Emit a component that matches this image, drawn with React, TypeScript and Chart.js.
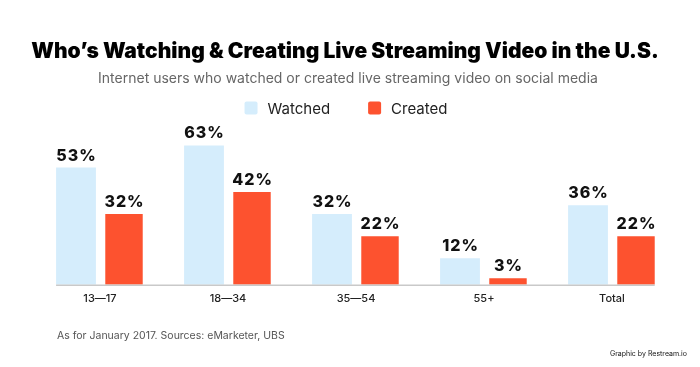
import React, { useEffect, useRef } from "react";
import { Chart, registerables } from "chart.js";

Chart.register(...registerables);

const categories = ["13—17", "18—34", "35—54", "55+", "Total"];
const watched = [53, 63, 32, 12, 36];
const created = [32, 42, 22, 3, 22];
const seriesNames = ["Watched", "Created"];
const titleText = "Who’s Watching & Creating Live Streaming Video in the U.S.";
const subtitleText = "Internet users who watched or created live streaming video on social media";
const footnote = "As for January 2017. Sources: eMarketer, UBS";
const credit = "Graphic by Restream.io";

const WATCHED_COLOR = "#d5edfc";
const CREATED_COLOR = "#fd522f";
const FONT = "Inter, 'Noto Sans', sans-serif";

const extrasPlugin = {
  id: "extras",
  afterDatasetsDraw(chart: any) {
    const ctx = chart.ctx;
    ctx.save();
    ctx.fillStyle = "#111";
    ctx.font = `800 16px ${FONT}`;
    (ctx as any).letterSpacing = "1px";
    ctx.textAlign = "center";
    ctx.textBaseline = "alphabetic";
    chart.data.datasets.forEach((ds: any, di: number) => {
      const meta = chart.getDatasetMeta(di);
      meta.data.forEach((bar: any, i: number) => {
        ctx.fillText(ds.data[i] + "%", bar.x + 0.5, bar.y - 7);
      });
    });
    ctx.restore();
  },
  afterDraw(chart: any) {
    const ctx = chart.ctx;
    const area = chart.chartArea;
    ctx.save();
    const m0 = chart.getDatasetMeta(0);
    const m1 = chart.getDatasetMeta(1);
    const first = m0.data[0];
    const last = m1.data[m1.data.length - 1];
    ctx.strokeStyle = "#c9c9c9";
    ctx.lineWidth = 1.5;
    ctx.beginPath();
    ctx.moveTo(first.x - first.width / 2, area.bottom + 0.5);
    ctx.lineTo(last.x + last.width / 2, area.bottom + 0.5);
    ctx.stroke();

    // title & subtitle
    ctx.textAlign = "center";
    ctx.textBaseline = "middle";
    ctx.fillStyle = "#000";
    ctx.font = `900 21px ${FONT}`;
    ctx.fillText(titleText, 345, 52);
    ctx.fillStyle = "#666";
    ctx.font = `400 14px ${FONT}`;
    ctx.fillText(subtitleText, 348, 79);

    // custom legend
    ctx.font = `400 15px ${FONT}`;
    ctx.textBaseline = "middle";
    ctx.textAlign = "left";
    const colors = [WATCHED_COLOR, CREATED_COLOR];
    const box = 13;
    const gapBox = 10;
    const gapItem = 38;
    const widths = seriesNames.map((n) => ctx.measureText(n).width);
    const total = widths.reduce((a, w) => a + box + gapBox + w, 0) + gapItem * (seriesNames.length - 1);
    let x = 346 - total / 2;
    const cy = 108;
    seriesNames.forEach((n, i) => {
      ctx.fillStyle = colors[i];
      ctx.beginPath();
      (ctx as any).roundRect(x, cy - box / 2, box, box, 2);
      ctx.fill();
      x += box + gapBox;
      ctx.fillStyle = "#222";
      ctx.fillText(n, x, cy + 1);
      x += widths[i] + gapItem;
    });

    // footer
    ctx.textBaseline = "alphabetic";
    ctx.fillStyle = "#555";
    ctx.font = `400 10.5px ${FONT}`;
    ctx.textAlign = "left";
    ctx.fillText(footnote, 57, 339);
    ctx.fillStyle = "#111";
    ctx.font = `400 7px ${FONT}`;
    ctx.textAlign = "right";
    ctx.fillText(credit, 687, 356);
    ctx.restore();
  },
};

export default function App() {
  const ref = useRef<HTMLCanvasElement | null>(null);
  useEffect(() => {
    if (!ref.current) return;
    const chart = new Chart(ref.current, {
      type: "bar",
      data: {
        labels: categories,
        datasets: [
          {
            label: seriesNames[0],
            data: watched,
            backgroundColor: WATCHED_COLOR,
            categoryPercentage: 0.75,
            barPercentage: 0.83,
          },
          {
            label: seriesNames[1],
            data: created,
            backgroundColor: CREATED_COLOR,
            categoryPercentage: 0.75,
            barPercentage: 0.78,
          },
        ],
      },
      options: {
        animation: false,
        responsive: false,
        devicePixelRatio: 1,
        layout: { padding: { left: 36, right: 24, top: 130, bottom: 55 } },
        plugins: {
          legend: { display: false },
          tooltip: { enabled: false },
          title: { display: false },
          subtitle: { display: false },
        },
        scales: {
          x: {
            grid: { display: false, drawTicks: false },
            border: { display: false },
            ticks: {
              color: "#222",
              font: { family: FONT, size: 11, weight: "500" as any },
              padding: 7,
            },
          },
          y: {
            display: false,
            min: 0,
            max: 70,
          },
        },
      },
      plugins: [extrasPlugin],
    });
    return () => chart.destroy();
  }, []);
  return (
    <div style={{ position: "absolute", left: 0, top: 0, width: 700, height: 367, background: "#fff" }}>
      <canvas ref={ref} width={700} height={367} />
    </div>
  );
}
